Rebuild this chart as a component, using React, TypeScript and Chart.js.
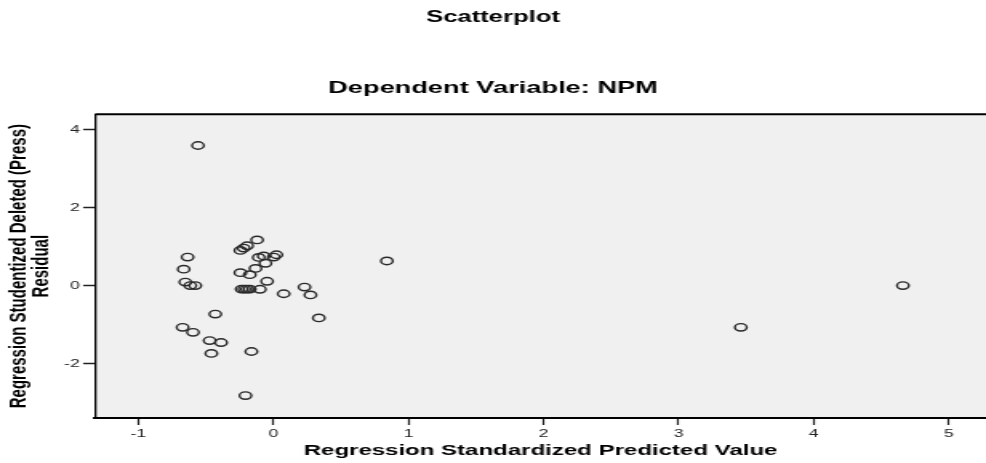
import React, { useEffect, useRef } from "react";
import { Chart, registerables } from "chart.js";

Chart.register(...registerables);

// Regression Standardized Predicted Value
const predicted: number[] = [
  -0.558, -0.635, -0.664, -0.652, -0.615, -0.578,
  -0.121, -0.195, -0.22, -0.244, 0.022, -0.072, -0.109, 0.002,
  -0.059, -0.133, -0.244, -0.175, -0.047,
  -0.235, -0.215, -0.195, -0.175, -0.1,
  0.076, 0.23, 0.274,
  -0.43, -0.672, -0.595, -0.472, -0.387, -0.459, -0.163, -0.207,
  0.336, 0.84, 3.46, 4.66,
];
// Regression Studentized Deleted (Press) Residual
const residual: number[] = [
  3.6, 0.74, 0.43, 0.1, 0.01, 0.01,
  1.18, 1.03, 0.97, 0.91, 0.8, 0.77, 0.73, 0.74,
  0.58, 0.45, 0.34, 0.29, 0.12,
  -0.08, -0.08, -0.08, -0.08, -0.085,
  -0.2, -0.03, -0.23,
  -0.72, -1.06, -1.19, -1.4, -1.45, -1.73, -1.68, -2.81,
  -0.82, 0.64, -1.06, 0.01,
];
const xTicks: number[] = [-1, 0, 1, 2, 3, 4, 5];
const yTicks: number[] = [-2, 0, 2, 4];

const chartTitle = "Scatterplot";
const chartSubtitle = "Dependent Variable: NPM";
const xTitle = "Regression Standardized Predicted Value";
const yTitle = ["Regression Studentized Deleted (Press)", "Residual"];

const INNER_W = 616;
const H = 463;

export default function App() {
  const ref = useRef<HTMLCanvasElement | null>(null);

  useEffect(() => {
    document.body.style.margin = "0";
    const canvas = ref.current;
    if (!canvas) return;

    const bgPlugin = {
      id: "plotBg",
      beforeDraw(chart: any) {
        const { ctx, chartArea } = chart;
        ctx.save();
        ctx.fillStyle = "#f0f0f0";
        ctx.fillRect(chartArea.left, chartArea.top, chartArea.right - chartArea.left, chartArea.bottom - chartArea.top);
        ctx.restore();
      },
      afterDraw(chart: any) {
        const { ctx, chartArea } = chart;
        ctx.save();
        ctx.strokeStyle = "#000";
        ctx.lineWidth = 2;
        ctx.beginPath();
        ctx.moveTo(chartArea.left, chartArea.top);
        ctx.lineTo(chartArea.right, chartArea.top);
        ctx.stroke();
        ctx.restore();
      },
    };

    const font = "'Liberation Sans', Arial, sans-serif";

    const chart = new Chart(canvas, {
      type: "scatter",
      data: {
        datasets: [
          {
            data: predicted.map((x, i) => ({ x, y: residual[i] })),
            pointStyle: "circle",
            pointRadius: 3.7,
            pointHoverRadius: 3.7,
            borderColor: "#2a2a2a",
            backgroundColor: "rgba(0,0,0,0)",
            borderWidth: 1.4,
          },
        ],
      },
      options: {
        animation: false,
        responsive: false,
        devicePixelRatio: 1,
        layout: { padding: 0, autoPadding: false },
        plugins: {
          legend: { display: false },
          tooltip: { enabled: false },
          title: {
            display: true,
            text: chartTitle,
            color: "#000",
            font: { family: font, size: 16, weight: "bold" },
            padding: { top: 8.4, bottom: 50.7 },
          },
          subtitle: {
            display: true,
            text: chartSubtitle,
            color: "#000",
            font: { family: font, size: 17, weight: "bold" },
            padding: { top: 0, bottom: 15.6 },
          },
        },
        scales: {
          x: {
            type: "linear",
            min: -1.32,
            max: 5.275,
            afterBuildTicks: (s: any) => {
              s.ticks = xTicks.map((v) => ({ value: v }));
            },
            afterFit: (s: any) => {
              s.height = 45;
              s.paddingLeft = 0;
              s.paddingRight = 0;
            },
            grid: {
              drawOnChartArea: false,
              drawTicks: true,
              tickLength: 7,
              tickColor: "#222",
              tickWidth: 1.2,
            },
            border: { display: true, color: "#000", width: 2 },
            ticks: {
              color: "#222",
              font: { family: font, size: 11 },
              padding: 2,
              maxRotation: 0,
              callback: (v: any) => String(v),
            },
            title: {
              display: true,
              text: xTitle,
              color: "#000",
              font: { family: font, size: 15, weight: "bold" },
              padding: { top: 0, bottom: 2.8 },
            },
          },
          y: {
            type: "linear",
            min: -3.385,
            max: 4.4,
            afterBuildTicks: (s: any) => {
              s.ticks = yTicks.map((v) => ({ value: v }));
            },
            afterFit: (s: any) => {
              s.width = 59.4;
              s.paddingTop = 0;
              s.paddingBottom = 0;
            },
            grid: {
              drawOnChartArea: false,
              drawTicks: true,
              tickLength: 7.5,
              tickColor: "#222",
              tickWidth: 1.5,
            },
            border: { display: true, color: "#000", width: 1.3 },
            ticks: {
              color: "#222",
              font: { family: font, size: 11 },
              padding: 2,
              callback: (v: any) => String(v),
            },
            title: {
              display: true,
              text: yTitle,
              color: "#000",
              font: { family: font, size: 15, weight: "bold", lineHeight: 0.913 },
              padding: { top: 5, bottom: 0 },
            },
          },
        },
      },
      plugins: [bgPlugin],
    } as any);

    return () => {
      chart.destroy();
    };
  }, []);

  return (
    <canvas
      ref={ref}
      width={INNER_W}
      height={H}
      style={{ width: "986px", height: "463px", display: "block" }}
    />
  );
}
